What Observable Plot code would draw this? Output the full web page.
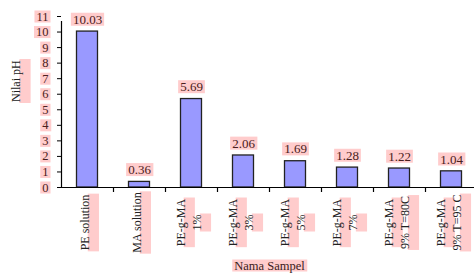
<!DOCTYPE html>
<html>
<head>
<meta charset="utf-8">
<script src="https://cdn.jsdelivr.net/npm/d3@7"></script>
<script src="https://cdn.jsdelivr.net/npm/@observablehq/plot@0.6"></script>
<style>
  html, body { margin: 0; padding: 0; background: #fff; }
  svg { overflow: visible; }
  svg text, svg tspan { font-family: "Liberation Serif", "DejaVu Serif", serif !important; }
</style>
</head>
<body>
<script>
const categories = ["PE solution", "MA solution", "PE-g-MA\n1%", "PE-g-MA\n3%", "PE-g-MA\n5%", "PE-g-MA\n7%", "PE-g-MA\n9% T=80C", "PE-g-MA\n9% T=95 C"];
const values = [10.03, 0.36, 5.69, 2.06, 1.69, 1.28, 1.22, 1.04];
const valueLabels = ["10.03", "0.36", "5.69", "2.06", "1.69", "1.28", "1.22", "1.04"];
const yTicks = [0, 1, 2, 3, 4, 5, 6, 7, 8, 9, 10, 11];
const yTitle = "Nilai pH";
const xTitle = "Nama Sampel";

const data = categories.map((c, i) => ({cat: c, value: values[i], label: valueLabels[i]}));
const maroon = "#4a2020";

const chart = Plot.plot({
  width: 474,
  height: 277,
  marginLeft: 61,
  marginRight: -3,
  marginTop: 16,
  marginBottom: 90,
  style: {fontFamily: "Liberation Serif", fontSize: "12px", background: "transparent", overflow: "visible"},
  x: {domain: categories, padding: 0, axis: null},
  y: {domain: [0, 11]},
  marks: [
    Plot.barY(data, {x: "cat", y: "value", fill: "#9999ff", stroke: "#222", strokeWidth: 1.3, insetLeft: 15.5, insetRight: 15.5}),
    Plot.ruleY([0], {stroke: "#000", strokeWidth: 1.2}),
    Plot.ruleX([categories[0]], {dx: -26, y1: 0, y2: 11, insetBottom: -5, stroke: "#000", strokeWidth: 1.2}),
    Plot.ruleX(categories, {dx: 26, y1: 0, y2: 0, insetBottom: -5, stroke: "#000", strokeWidth: 1.2}),
    Plot.text(data, {x: "cat", y: "value", text: "label", dy: -12, fill: maroon, fontSize: 13}),
    Plot.axisY({ticks: yTicks, tickSize: 4, tickPadding: 9, tickFormat: d => String(d), fill: maroon, stroke: "#000", label: null, fontSize: 12.5}),
    Plot.text(categories, {x: d => d, text: d => d, frameAnchor: "bottom", dy: 35, dx: -4, rotate: -90, textAnchor: "middle", lineAnchor: "middle", lineHeight: 1.35, fill: "#222", fontSize: 12}),
    Plot.text([yTitle], {frameAnchor: "left", dx: -45, rotate: -90, fill: "#222", fontSize: 12}),
    Plot.text([xTitle], {frameAnchor: "bottom", dy: 82, fill: "#3a2020", fontSize: 12.5})
  ]
});
document.body.append(chart);

// pink highlight boxes behind every text
const ns = "http://www.w3.org/2000/svg";
chart.querySelectorAll("text").forEach(t => {
  const tf = t.getAttribute("transform") || "";
  const rotated = tf.includes("rotate");
  const tsp = t.querySelectorAll("tspan");
  const parts = tsp.length ? [...tsp] : [t];
  parts.forEach(p => {
    const b = p.getBBox();
    if (!b.width) return;
    const r = document.createElementNS(ns, "rect");
    if (rotated) {
      r.setAttribute("x", b.x - 1);
      r.setAttribute("width", b.width + 2);
      r.setAttribute("y", b.y + b.height * 0.72);
      r.setAttribute("height", b.height * 0.8);
    } else {
      r.setAttribute("x", b.x - 2);
      r.setAttribute("width", b.width + 4);
      r.setAttribute("y", b.y + 1);
      r.setAttribute("height", b.height - 2);
    }
    if (tf) r.setAttribute("transform", tf);
    r.setAttribute("fill", "#ffcccc");
    r.setAttribute("stroke", "none");
    t.parentNode.insertBefore(r, t);
  });
});
</script>
</body>
</html>
